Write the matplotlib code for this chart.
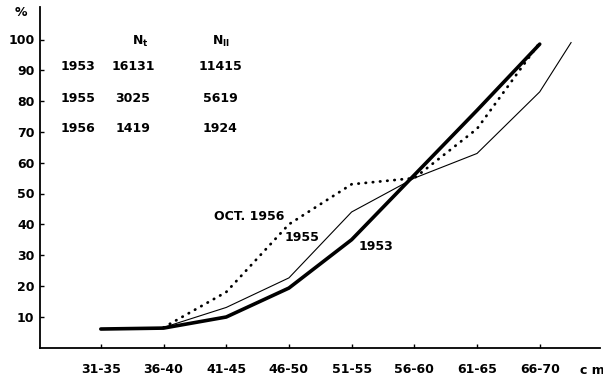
import matplotlib
matplotlib.use("Agg")
import matplotlib.pyplot as plt

categories = ["31-35", "36-40", "41-45", "46-50", "51-55", "56-60", "61-65", "66-70"]
x_1953 = [0, 1, 2, 3, 4, 5, 6, 7]
v_1953 = [6, 6.3, 9.9, 19.3, 35, 56, 77, 98.5]
x_1955 = [1, 2, 3, 4, 5, 6, 7, 7.5]
v_1955 = [6.5, 13, 22.6, 44, 55, 63, 83, 99]
x_1956 = [1, 2, 3, 4, 5, 6, 7]
v_1956 = [6.5, 18, 40, 53, 55, 71, 99]
yticks = [10, 20, 30, 40, 50, 60, 70, 80, 90, 100]

table_years = ["1953", "1955", "1956"]
table_nt = ["16131", "3025", "1419"]
table_nii = ["11415", "5619", "1924"]

W, H = 603, 379
fig = plt.figure(figsize=(W / 100, H / 100), dpi=100)
x0, x1 = 40, 600
y0, y1 = 347.5, 7
ax = fig.add_axes([x0 / W, (H - y0) / H, (x1 - x0) / W, (y0 - y1) / H])
ax.set_xlim(-0.97, -0.97 + (x1 - x0) / 62.7)
ax.set_ylim(0, (y0 - y1) / 3.08)

ax.plot(x_1953, v_1953, color="black", lw=2.6, solid_capstyle="round", solid_joinstyle="round")
ax.plot(x_1955, v_1955, color="black", lw=0.8)
ax.plot(x_1956, v_1956, color="black", lw=2.0, linestyle=(0, (0.15, 2.45)), dash_capstyle="round")

for s in ["top", "right"]:
    ax.spines[s].set_visible(False)
for s in ["left", "bottom"]:
    ax.spines[s].set_linewidth(1.3)

fp = dict(fontsize=9, fontweight="bold", family="DejaVu Sans")
ax.set_yticks(yticks)
ax.set_yticklabels([str(v) for v in yticks], **fp)
ax.set_xticks(range(len(categories)))
ax.set_xticklabels(categories, **fp)
ax.tick_params(axis="y", direction="in", length=3, width=1, pad=4)
ax.tick_params(axis="x", direction="in", length=3, width=1, pad=11)

def t(xp, yp, s, **kw):
    d = dict(fp)
    d.update(kw)
    fig.text(xp / W, 1 - yp / H, s, ha="center", va="center", **d)

t(21, 13, "%")
t(592, 370, "c m")
t(140, 41, r"N$_\mathbf{t}$")
t(221, 41, r"N$_\mathbf{II}$")
rows_y = [67, 98, 128]
for yy, a, b, c in zip(rows_y, table_years, table_nt, table_nii):
    t(78, yy, a)
    t(133, yy, b)
    t(220, yy, c)

t(249, 216, "OCT. 1956")
t(302, 237, "1955")
t(376, 246, "1953")

fig.savefig("out.png", dpi=100)
